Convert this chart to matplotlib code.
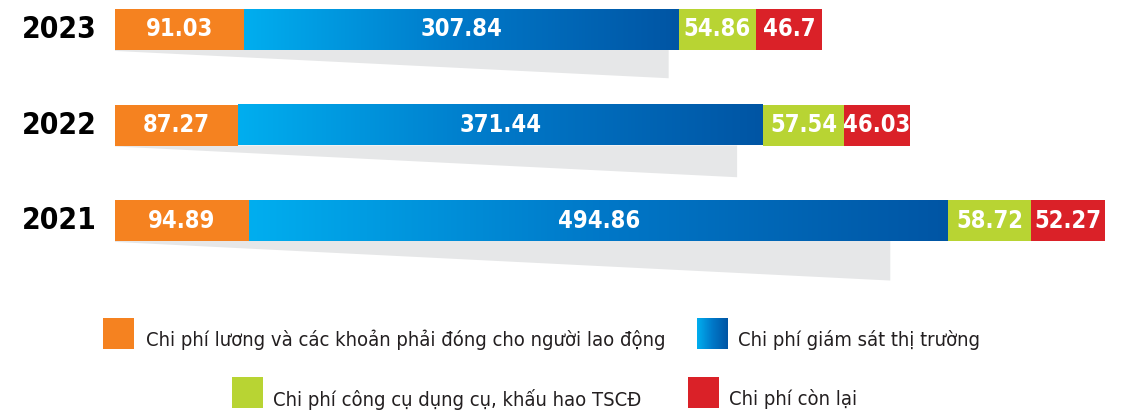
import matplotlib
matplotlib.use('Agg')
import matplotlib.pyplot as plt
import numpy as np
from matplotlib.colors import LinearSegmentedColormap
from matplotlib.patches import Polygon, Rectangle

years = ['2023', '2022', '2021']
luong = [91.03, 87.27, 94.89]
giam_sat = [307.84, 371.44, 494.86]
cong_cu = [54.86, 57.54, 58.72]
con_lai = [46.7, 46.03, 52.27]
legend_labels = [
    'Chi phí lương và các khoản phải đóng cho người lao động',
    'Chi phí giám sát thị trường',
    'Chi phí công cụ dụng cụ, khấu hao TSCĐ',
    'Chi phí còn lại',
]

ORANGE = '#f58220'
GREEN = '#b8d433'
RED = '#da2128'
SHADOW = '#e6e7e8'
blue_cmap = LinearSegmentedColormap.from_list('blue', ['#00aeef', '#0078c8', '#0055a4'])

# narrow look of the original: DejaVu Sans Condensed
plt.rcParams['font.family'] = ['DejaVu Sans']
plt.rcParams['font.stretch'] = 'condensed'

W, H = 1129, 415
fig = plt.figure(figsize=(W / 100, H / 100), dpi=100)

# bar axes: pixels 115..1129 horizontally, 0..300 vertically
px_per_unit = 1.413
row_px = 95.5
ax = fig.add_axes([115 / W, 1 - 300 / H, (W - 115) / W, 300 / H])
ax.axis('off')

y = np.arange(len(years))
bar_h = 41 / row_px
totals = np.array(luong) + np.array(giam_sat) + np.array(cong_cu) + np.array(con_lai)

# grey shadows under the bars
for i, tot in enumerate(totals):
    length = 0.783 * tot
    depth = 0.051 * length * px_per_unit / row_px
    top = y[i] + bar_h / 2
    ax.add_patch(Polygon([(0, top), (length, top), (length, top + depth), (0, top + 0.01)],
                         closed=True, color=SHADOW, lw=0, zorder=1))

ax.barh(y, luong, height=bar_h, color=ORANGE, zorder=2)
left2 = np.array(luong)
# gradient blue segments
for i in range(len(years)):
    grad = np.linspace(0, 1, 256).reshape(1, -1)
    ax.imshow(grad, cmap=blue_cmap, aspect='auto', zorder=2,
              extent=(left2[i], left2[i] + giam_sat[i], y[i] + bar_h / 2, y[i] - bar_h / 2))
left3 = left2 + np.array(giam_sat)
ax.barh(y, cong_cu, left=left3, height=bar_h, color=GREEN, zorder=2)
left4 = left3 + np.array(cong_cu)
ax.barh(y, con_lai, left=left4, height=bar_h, color=RED, zorder=2)
ax.set_xlim(0, (W - 115) / px_per_unit)
ax.set_ylim((300 - 29.5) / row_px, -29.5 / row_px)

for i in range(len(years)):
    for start, val in [(0, luong[i]), (left2[i], giam_sat[i]), (left3[i], cong_cu[i]), (left4[i], con_lai[i])]:
        ax.text(start + val / 2, y[i], f'{val:g}', ha='center', va='center',
                color='white', fontsize=17, fontweight='bold', zorder=3)
    ax.text(-18 / px_per_unit, y[i], years[i], ha='right', va='center',
            fontsize=21.5, fontweight='bold', color='black')

# legend drawn in pixel space
lax = fig.add_axes([0, 0, 1, 1])
lax.axis('off')
sq = 31
items = [
    (103, 318, ORANGE, 146, legend_labels[0]),
    (697, 318, None, 738, legend_labels[1]),
    (232, 377, GREEN, 273, legend_labels[2]),
    (688, 377, RED, 729, legend_labels[3]),
]
for x0, y0, col, tx, lab in items:
    if col is None:
        lax.imshow(np.linspace(0, 1, 64).reshape(1, -1), cmap=blue_cmap, aspect='auto',
                   extent=(x0, x0 + sq, y0 + sq, y0))
    else:
        lax.add_patch(Rectangle((x0, y0), sq, sq, color=col, lw=0))
    lax.text(tx, y0 + 22, lab, ha='left', va='center', fontsize=14.5, color='#231f20')
lax.set_xlim(0, W)
lax.set_ylim(H, 0)

fig.savefig('out.png', dpi=100)
